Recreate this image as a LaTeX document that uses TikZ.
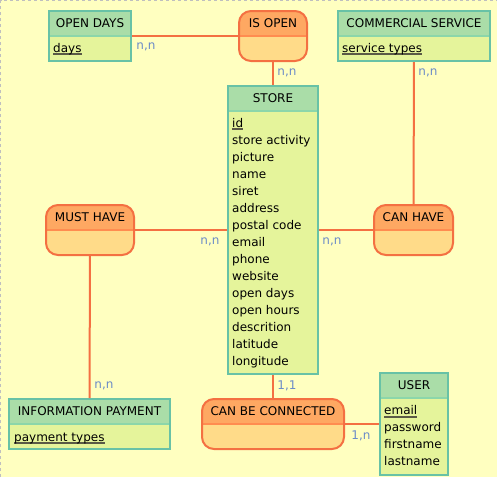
\documentclass[tikz,border=0pt]{standalone}
\usepackage{fontspec}
\setmainfont{DejaVu Sans}
\usepackage{tikz}
\definecolor{bgcol}{RGB}{255,255,192}
\definecolor{enthead}{RGB}{170,221,168}
\definecolor{entbody}{RGB}{229,244,155}
\definecolor{entline}{RGB}{104,194,166}
\definecolor{entsep}{RGB}{140,214,170}
\definecolor{asshead}{RGB}{254,168,98}
\definecolor{assbody}{RGB}{255,219,137}
\definecolor{assline}{RGB}{244,112,66}
\definecolor{asssep}{RGB}{255,140,80}
\definecolor{cardcol}{RGB}{108,140,200}
\definecolor{keycol}{RGB}{90,90,70}
\newsavebox\keybox
\newcommand{\keyfield}[1]{\sbox\keybox{#1}\rlap{\color{keycol}\rule[-3pt]{\wd\keybox}{1.6pt}}\usebox\keybox}
\tikzset{
  erbox/.style 2 args={inner sep=0pt, anchor=north west, line width=2pt,
    path picture={
      \fill[#1, sharp corners] (path picture bounding box.north west)
        rectangle ([yshift=-25pt]path picture bounding box.north east);
      \draw[#2, line width=1.2pt, sharp corners]
        ([yshift=-25pt]path picture bounding box.north west)
        -- ([yshift=-25pt]path picture bounding box.north east);}},
  entity/.style={erbox={enthead}{entsep}, draw=entline, fill=entbody},
  relation/.style={erbox={asshead}{asssep}, draw=assline, fill=assbody, rounded corners=12pt},
  title/.style={inner sep=0pt, font=\fontsize{12}{14}\selectfont, text=black},
  field/.style={inner sep=0pt, anchor=base west, font=\fontsize{12}{14}\selectfont, text=black},
  card/.style={inner sep=0pt, font=\fontsize{12}{14}\selectfont, text=cardcol},
  link/.style={draw=assline, line width=2pt}
}
\begin{document}
\begin{tikzpicture}[x=1pt, y=-1pt]
  \useasboundingbox (0,0) rectangle (497,477);
  \fill[bgcol] (0,0) rectangle (497,477);
  \draw[black!25, dashed] (0.5,477) -- (0.5,0.5) -- (497,0.5);

  % entities
  \node[entity, minimum width=82pt, minimum height=50pt] (opendays) at (48,10) {};
  \node[entity, minimum width=152pt, minimum height=50pt] (commercial) at (337,10) {};
  \node[entity, minimum width=90pt, minimum height=288pt] (store) at (227,85) {};
  \node[entity, minimum width=161pt, minimum height=50pt] (infopay) at (8,398) {};
  \node[entity, minimum width=68pt, minimum height=102pt] (user) at (379,372) {};

  % relations
  \node[relation, minimum width=68pt, minimum height=50pt] (isopen) at (238,10) {};
  \node[relation, minimum width=88pt, minimum height=50pt] (musthave) at (45,204) {};
  \node[relation, minimum width=79pt, minimum height=50pt] (canhave) at (373,204) {};
  \node[relation, minimum width=142pt, minimum height=50pt] (canbeconn) at (201,398) {};

  % titles
  \foreach \n/\t in {opendays/OPEN DAYS, commercial/COMMERCIAL SERVICE, store/STORE,
                     infopay/INFORMATION PAYMENT, user/USER, isopen/IS OPEN,
                     musthave/MUST HAVE, canhave/CAN HAVE, canbeconn/CAN BE CONNECTED}
    \node[title] (\n-t) at ([yshift=-13.5pt]\n.north) {\t};

  % fields
  \node[field] (opendays-f) at (53,52) {\keyfield{days}};
  \node[field] (commercial-f) at (342,52) {\keyfield{service types}};
  \node[field] (infopay-f) at (14,441) {\keyfield{payment types}};
  \foreach \f [count=\i] in {\keyfield{id}, store activity, picture, name, siret, address,
                             postal code, email, phone, website, open days, open hours,
                             descrition, latitude, longitude}
    \node[field] (store-f\i) at ({232},{110+17*\i}) {\f};
  \foreach \f [count=\i] in {\keyfield{email}, password, firstname, lastname}
    \node[field] (user-f\i) at ({384},{398+16.9*\i}) {\f};

  % links
  \draw[link] (opendays) -- (isopen);
  \draw[link] (isopen) -- (store);
  \draw[link] (commercial) -- (canhave);
  \draw[link] (musthave) -- (store);
  \draw[link] (store) -- (canhave);
  \draw[link] (musthave) -- (infopay);
  \draw[link] (store) -- (canbeconn);
  \draw[link] (canbeconn) -- (user);

  % cardinalities
  \node[card] (c1) at (146,47) {n,n};
  \node[card] (c2) at (287,73) {n,n};
  \node[card] (c3) at (428,73) {n,n};
  \node[card] (c4) at (210,242) {n,n};
  \node[card] (c5) at (332,242) {n,n};
  \node[card] (c6) at (104,386) {n,n};
  \node[card] (c7) at (287,386) {1,1};
  \node[card] (c8) at (361,436) {1,n};
\end{tikzpicture}
\end{document}
